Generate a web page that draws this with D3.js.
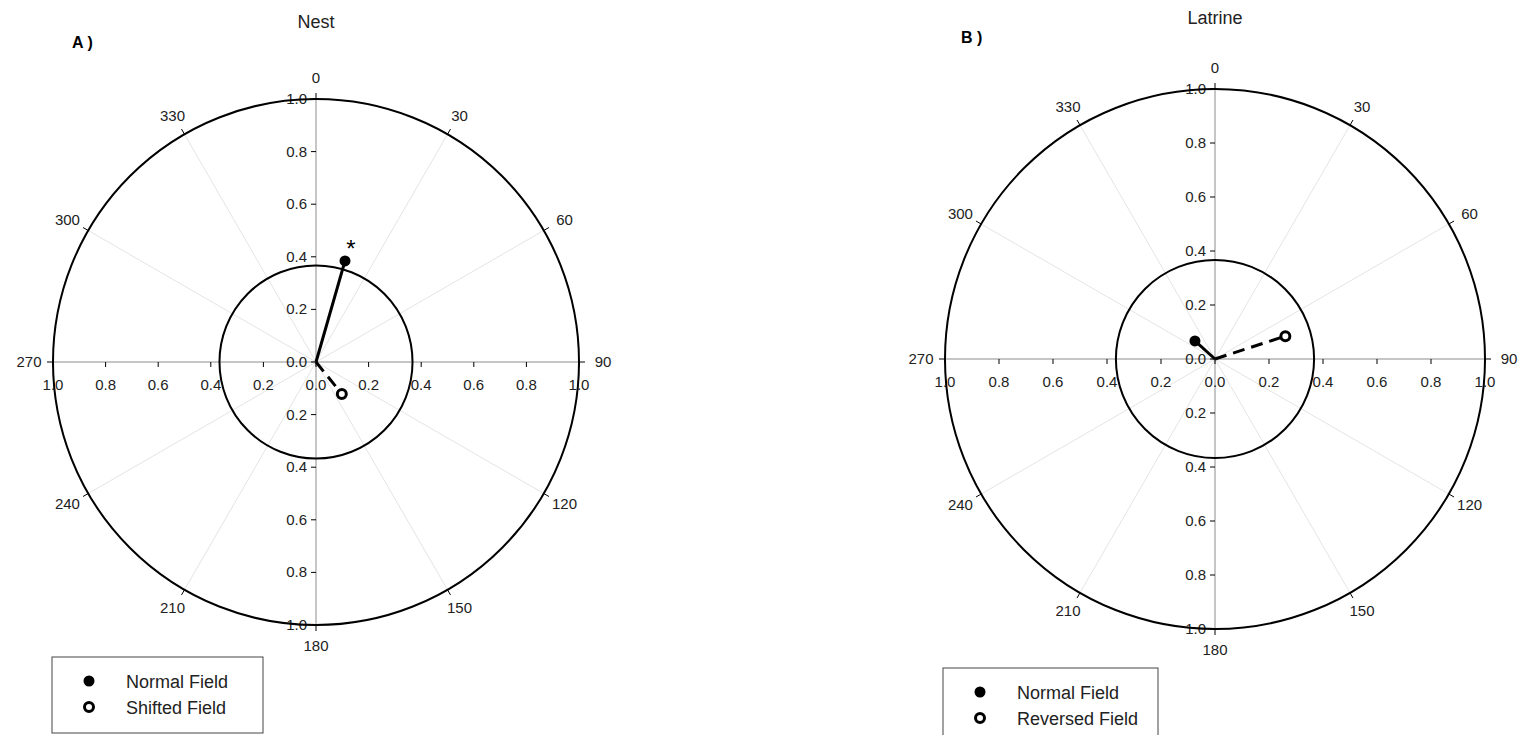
<!DOCTYPE html>
<html>
<head>
<meta charset="utf-8">
<script src="https://cdn.jsdelivr.net/npm/d3@7"></script>
<style>
  body { margin: 0; background: #fff; }
  text { font-family: "Liberation Sans", Arial, sans-serif; }
</style>
</head>
<body>
<svg id="chart" width="1526" height="735"></svg>
<script>
// angle labels around the dial (degrees)
const angleTicks = [0, 30, 60, 90, 120, 150, 180, 210, 240, 270, 300, 330];
// radial tick values
const radialTicks = [0, 0.2, 0.4, 0.6, 0.8, 1.0];

// Panel A: Nest  (angle in degrees, length)
const nestAngles = [16, 141];
const nestLengths = [0.40, 0.156];
const nestLabels = ['Normal Field', 'Shifted Field'];
// Panel B: Latrine
const latrineAngles = [312, 72];
const latrineLengths = [0.10, 0.274];
const latrineLabels = ['Normal Field', 'Reversed Field'];

// radius of the inner significance circle
const criticalR = [0.367, 0.367];

const panels = [
  {title: 'Nest', tag: 'A )', cx: 316, cy: 362, r: 263, angles: nestAngles, lengths: nestLengths,
   labels: nestLabels, crit: criticalR[0], star: true, tagX: 72, tagY: 48, titleY: 28,
   legend: {x: 52, y: 657, w: 211, h: 76}},
  {title: 'Latrine', tag: 'B )', cx: 1215, cy: 359, r: 270, angles: latrineAngles, lengths: latrineLengths,
   labels: latrineLabels, crit: criticalR[1], star: false, tagX: 961, tagY: 43, titleY: 24,
   legend: {x: 943, y: 668, w: 215, h: 70}}
];

const svg = d3.select('#chart');
const grey = '#b3b3b3';

panels.forEach(p => {
  const g = svg.append('g').attr('transform', 'translate(' + p.cx + ',' + p.cy + ')');
  const rs = d3.scaleLinear().domain([0, 1]).range([0, p.r]);
  const pt = (deg, v) => {
    const a = deg * Math.PI / 180;
    return [rs(v) * Math.sin(a), -rs(v) * Math.cos(a)];
  };

  // spokes
  g.selectAll('.spoke').data(angleTicks.filter(a => a % 90 !== 0)).enter().append('line')
    .attr('x1', 0).attr('y1', 0)
    .attr('x2', d => pt(d, 1)[0]).attr('y2', d => pt(d, 1)[1])
    .attr('stroke', '#e4e4e4').attr('stroke-width', 1);

  // main axes
  g.append('line').attr('x1', -p.r).attr('x2', p.r).attr('y1', 0).attr('y2', 0)
    .attr('stroke', grey).attr('stroke-width', 1.5);
  g.append('line').attr('y1', -p.r).attr('y2', p.r).attr('x1', 0).attr('x2', 0)
    .attr('stroke', grey).attr('stroke-width', 1.5);

  // vertical axis ticks (up and down) with labels left
  const vTicks = radialTicks.map(v => -rs(v)).concat(radialTicks.slice(1).map(v => rs(v)));
  const vVals = radialTicks.concat(radialTicks.slice(1));
  g.selectAll('.vt').data(vTicks).enter().append('line')
    .attr('x1', -5).attr('x2', 0).attr('y1', d => d).attr('y2', d => d)
    .attr('stroke', '#000').attr('stroke-width', 1);
  g.selectAll('.vl').data(vVals).enter().append('text')
    .attr('x', -9).attr('y', (d, i) => vTicks[i] + 5)
    .attr('text-anchor', 'end').attr('font-size', 15).attr('fill', '#222')
    .text(d => d.toFixed(1));

  // horizontal axis ticks with labels below
  const hTicks = radialTicks.map(v => -rs(v)).concat(radialTicks.slice(1).map(v => rs(v)));
  g.selectAll('.ht').data(hTicks).enter().append('line')
    .attr('x1', d => d).attr('x2', d => d).attr('y1', 0).attr('y2', 5)
    .attr('stroke', '#000').attr('stroke-width', 1);
  g.selectAll('.hl').data(vVals).enter().append('text')
    .attr('x', (d, i) => hTicks[i]).attr('y', 28)
    .attr('text-anchor', 'middle').attr('font-size', 15).attr('fill', '#222')
    .text(d => d.toFixed(1));

  // outer circle and critical circle
  g.append('circle').attr('r', rs(1)).attr('fill', 'none').attr('stroke', '#000').attr('stroke-width', 2);
  g.append('circle').attr('r', rs(p.crit)).attr('fill', 'none').attr('stroke', '#000').attr('stroke-width', 2);

  // angle ticks and labels
  g.selectAll('.at').data(angleTicks).enter().append('line')
    .attr('x1', d => pt(d, 1)[0]).attr('y1', d => pt(d, 1)[1])
    .attr('x2', d => pt(d, 1 + 6 / p.r)[0]).attr('y2', d => pt(d, 1 + 6 / p.r)[1])
    .attr('stroke', '#000');
  g.selectAll('.al').data(angleTicks).enter().append('text')
    .attr('x', d => pt(d, 1 + 24 / p.r)[0]).attr('y', d => pt(d, 1 + 21 / p.r)[1] + 5)
    .attr('text-anchor', 'middle').attr('font-size', 15).attr('fill', '#222')
    .text(d => d);

  // vectors
  p.angles.forEach((a, i) => {
    const e = pt(a, p.lengths[i]);
    g.append('line').attr('x1', 0).attr('y1', 0).attr('x2', e[0]).attr('y2', e[1])
      .attr('stroke', '#000').attr('stroke-width', 3)
      .attr('stroke-dasharray', i === 1 ? '12,7' : null);
    g.append('circle').attr('cx', e[0]).attr('cy', e[1]).attr('r', i === 0 ? 5.5 : 4.5)
      .attr('fill', i === 0 ? '#000' : '#fff').attr('stroke', '#000').attr('stroke-width', i === 0 ? 0 : 3);
  });
  if (p.star) {
    const e = pt(p.angles[0], p.lengths[0]);
    g.append('text').attr('x', e[0] + 6).attr('y', e[1] - 4).attr('text-anchor', 'middle')
      .attr('font-size', 24).attr('fill', '#000').text('*');
  }

  // titles
  svg.append('text').attr('x', p.cx).attr('y', p.titleY).attr('text-anchor', 'middle')
    .attr('font-size', 18).attr('fill', '#222').text(p.title);
  svg.append('text').attr('x', p.tagX).attr('y', p.tagY).attr('font-size', 16)
    .attr('font-weight', 'bold').attr('fill', '#000').text(p.tag);

  // legend
  const L = p.legend;
  const lg = svg.append('g').attr('transform', 'translate(' + L.x + ',' + L.y + ')');
  lg.append('rect').attr('width', L.w).attr('height', L.h).attr('fill', '#fff')
    .attr('stroke', '#444').attr('stroke-width', 1);
  p.labels.forEach((lab, i) => {
    const y = 25 + i * 26;
    lg.append('circle').attr('cx', 37).attr('cy', y - 1).attr('r', i === 0 ? 5.5 : 4.5)
      .attr('fill', i === 0 ? '#000' : '#fff').attr('stroke', '#000').attr('stroke-width', i === 0 ? 0 : 3);
    lg.append('text').attr('x', 74).attr('y', y + 6).attr('font-size', 18).attr('fill', '#222').text(lab);
  });
});
</script>
</body>
</html>
